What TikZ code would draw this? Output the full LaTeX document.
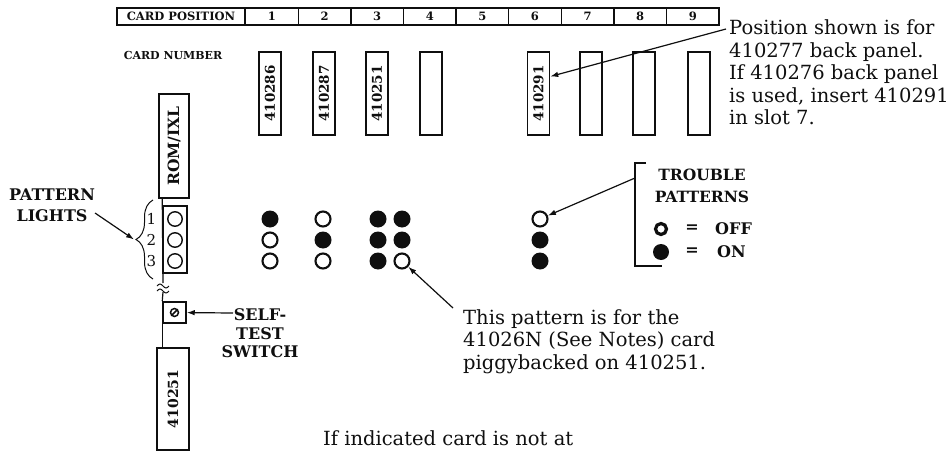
\documentclass[tikz,border=0pt]{standalone}
\usepackage{fontspec}
\setmainfont{DejaVu Serif}
\definecolor{panelink}{RGB}{15, 15, 15}
\usepackage{tikz}
\usetikzlibrary{shapes, arrows.meta, positioning, calc, decorations.pathreplacing}

\begin{document}
\begin{tikzpicture}[x=1pt, y=-1pt, color=panelink,
    cell/.style={draw, line width=1.3pt, minimum height=17pt, inner sep=0pt, font=\bfseries\fontsize{11.5}{12}\selectfont},
    card/.style={draw, line width=1.5pt, rotate=90, minimum width=83pt, minimum height=22pt, inner sep=0pt, font=\bfseries\fontsize{13.5}{14}\selectfont},
    lamp/.style={circle, draw, line width=2.1pt, minimum size=15pt, inner sep=0pt},
    lit/.style={circle, fill, minimum size=17pt, inner sep=0pt},
    note/.style={align=left, inner sep=0pt, font=\fontsize{19.5}{22.5}\selectfont},
    tag/.style={align=center, inner sep=0pt, font=\bfseries\fontsize{16}{18.5}\selectfont},
    arr/.style={-{Latex[length=8pt, width=5.5pt]}, line width=1.2pt}]
  \useasboundingbox (0,0) rectangle (952,452);

  % card position strip
  \node[cell, minimum width=128pt] (poshead) at (181,16.5) {CARD POSITION};
  \foreach \i in {1,...,9}
    \node[cell, minimum width=52.6pt, anchor=west] (pos\i) at ({245+52.6*(\i-1)},16.5) {\i};
  \node[inner sep=0pt, font=\bfseries\fontsize{11}{12}\selectfont] (cardnum) at (173,55) {CARD NUMBER};

  % cards in the slots
  \foreach \i/\cx/\num in {1/270/410286, 2/324/410287, 3/377/410251, 4/431/{}, 6/538.5/410291, 7/591/{}, 8/644/{}, 9/699/{}}
    \node[card] (card\i) at (\cx,93.5) {\num};

  % edge board with lights and switch
  \node[card, minimum width=104pt, minimum height=30pt, font=\bfseries\fontsize{15.5}{16}\selectfont] (romcard) at (174,146) {ROM/IXL};
  \node[draw, line width=1.5pt, minimum width=24pt, minimum height=67pt, inner sep=0pt] (lampbox) at (175,239.5) {};
  \foreach \r in {1,2,3} {
    \node[lamp, line width=1.4pt, minimum size=14.5pt] (lamp\r) at (175,{198+21*\r}) {};
    \node[inner sep=0pt, font=\fontsize{15}{16}\selectfont] (lampnum\r) at (151.5,{198+21*\r}) {\r};
  }
  \coordinate (brkup) at (163,283);
  \coordinate (brkdn) at (163,292);
  \draw[line width=1.2pt] (lampbox.west |- romcard.west) -- (brkup);
  \draw[line width=1pt] (157,286) sin (160,284) cos (163,286) sin (166,288) cos (169,286);
  \draw[line width=1pt] (157,291) sin (160,289) cos (163,291) sin (166,293) cos (169,291);
  \node[draw, line width=1.5pt, minimum width=23pt, minimum height=21pt, inner sep=0pt] (swbox) at (174.5,312.5) {};
  \draw[line width=1.5pt] (swbox.center) circle (4pt);
  \draw[line width=1.5pt] ($(swbox.center)+(-3.2,3.2)$) -- ($(swbox.center)+(3.2,-3.2)$);
  \node[card, minimum width=102pt, minimum height=32pt, font=\bfseries\fontsize{14}{15}\selectfont] (lowcard) at (173,399) {410251};
  \draw[line width=1.2pt] (brkdn) -- (swbox.north west);
  \draw[line width=1.2pt] (swbox.south west) -- (swbox.south west |- lowcard.east);

  \draw[decorate, decoration={brace, amplitude=17pt}, line width=1pt] (153,279) -- (153,200);
  \coordinate (bracetip) at (134,239.5);
  \node[tag, font=\bfseries\fontsize{16}{21}\selectfont] (plights) at (52,205.5) {PATTERN\\LIGHTS};
  \coordinate (pltip) at (95,213);
  \draw[arr] (pltip) -- (bracetip);

  \node[tag] (selftest) at (260,333.5) {SELF-\\TEST\\SWITCH};
  \coordinate (swtip) at (233,313);
  \draw[arr] (swtip) -- (swbox);

  % lamp patterns per slot
  \foreach \col/\cx/\states in {1/270/{lit,lamp,lamp}, 2/323/{lamp,lit,lamp}, 3/378/{lit,lit,lit}, 3b/402/{lit,lit,lamp}, 6/540/{lamp,lit,lit}}
    \foreach \s [count=\r] in \states
      \node[\s] (dot\col-\r) at (\cx,{198+21*\r}) {};

  % legend
  \draw[line width=1.5pt] (646,163) -- (635,163) -- (635,266) -- (662,266);
  \node[tag, font=\bfseries\fontsize{15.5}{22}\selectfont] (trouble) at (702,186) {TROUBLE\\PATTERNS};
  \node[lamp, line width=3.2pt, minimum size=11pt] (keyoff) at (661,229) {};
  \node[lit, minimum size=16pt] (keyon) at (661,252) {};
  \node[tag] (eqoff) at (692,229) {=};
  \node[tag] (eqon) at (692,252) {=};
  \node[tag, anchor=west] (offtxt) at (715,229) {OFF};
  \node[tag, anchor=west] (ontxt) at (717,252) {ON};
  \coordinate (trtip) at (635,178);
  \draw[arr] (trtip) -- (dot6-1);

  % notes
  \node[note, anchor=north west] (posnote) at (729,19.5) {Position shown is for\\410277 back panel.\\If 410276 back panel\\is used, insert 410291\\in slot 7.};
  \coordinate (postip) at (726,29);
  \draw[arr] (postip) -- ([yshift=17pt]card6.south);

  \node[note, anchor=north west] (pnote) at (463,309) {This pattern is for the\\41026N (See Notes) card\\piggybacked on 410251.};
  \coordinate (pnotetip) at (453,308);
  \draw[arr] (pnotetip) -- (dot3b-3);

  \node[note, anchor=west] (endnote) at (323,438) {If indicated card is not at};
\end{tikzpicture}
\end{document}
